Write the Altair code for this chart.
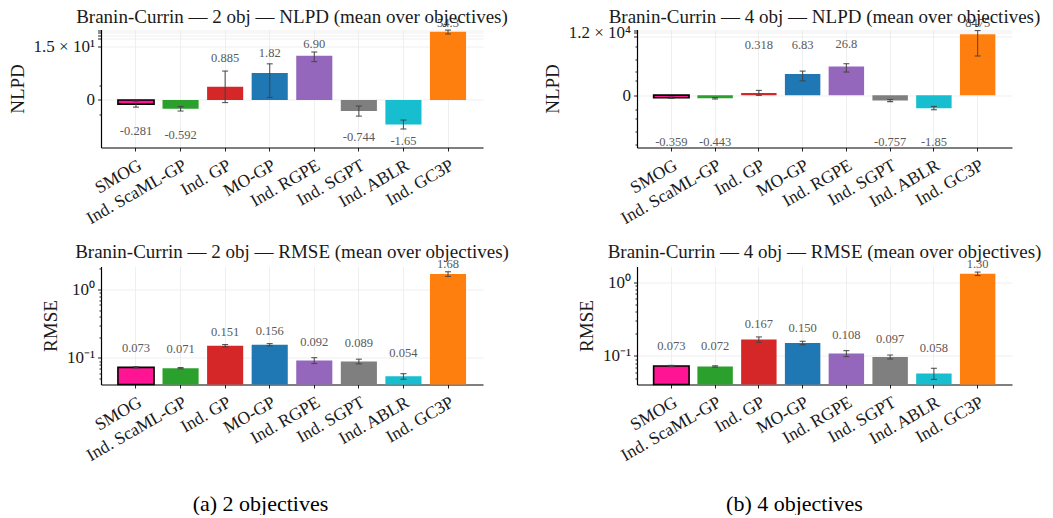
import math
import altair as alt
import pandas as pd

# ---------------- data ----------------
methods = ["SMOG", "Ind. ScaML-GP", "Ind. GP", "MO-GP", "Ind. RGPE",
           "Ind. SGPT", "Ind. ABLR", "Ind. GC3P"]
colors = ["#ff1493", "#2ca02c", "#d62728", "#1f77b4", "#9467bd",
          "#7f7f7f", "#17becf", "#ff7f0e"]

nlpd2_mean = [-0.281, -0.592, 0.885, 1.82, 6.90, -0.744, -1.65, 54.3]
nlpd2_err = [0.2, 0.15, 1.06, 1.65, 2.7, 0.34, 0.3, 9.0]
nlpd4_mean = [-0.359, -0.443, 0.318, 6.83, 26.8, -0.757, -1.85, 8475]
nlpd4_err = [0.1, 0.1, 0.35, 4.8, 17.0, 0.15, 0.27, 8300]
rmse2_mean = [0.073, 0.071, 0.151, 0.156, 0.092, 0.089, 0.054, 1.68]
rmse2_err = [0.0015, 0.0015, 0.006, 0.006, 0.009, 0.007, 0.005, 0.13]
rmse4_mean = [0.073, 0.072, 0.167, 0.150, 0.108, 0.097, 0.058, 1.30]
rmse4_err = [0.0015, 0.0015, 0.014, 0.008, 0.010, 0.006, 0.010, 0.07]

titles = [
    "Branin-Currin \u2014 2 obj \u2014 NLPD (mean over objectives)",
    "Branin-Currin \u2014 4 obj \u2014 NLPD (mean over objectives)",
    "Branin-Currin \u2014 2 obj \u2014 RMSE (mean over objectives)",
    "Branin-Currin \u2014 4 obj \u2014 RMSE (mean over objectives)",
]
captions = ["(a) 2 objectives", "(b) 4 objectives"]

# ---------------- style ----------------
SERIF = "Liberation Serif"
TXT = "#1a1a1a"
GRID = "#ebebeb"
W_LEFT, W_RIGHT, H = 382, 375, 118

# matplotlib-like symlog (linthresh 2, linscale 1)
T = 2.0
A = 1.0 / (1.0 - 0.1)


def symlog(v):
    a = abs(v)
    if a <= T:
        return v / T * A
    return math.copysign(A + math.log10(a / T), v)


def symlog_expr(f):
    return (f"abs({f}) <= {T} ? {f} / {T} * {A} : "
            f"({f} < 0 ? -1 : 1) * ({A} + log(abs({f}) / {T}) / LN10)")


def fmt_nlpd(v):
    if abs(v) >= 1000:
        return f"{v:.0f}"
    return f"{v:#.3g}"


def fmt_rmse(v):
    return f"{v:.2f}" if v >= 1 else f"{v:.3f}"


def x_enc(caption=None, title_x=0):
    kw = dict(labelAngle=-30, labelAlign="right", labelBaseline="top",
              labelFont=SERIF, labelFontSize=17.5, labelColor=TXT,
              labelPadding=5, tickSize=3.5, tickColor="#222",
              domainColor="#000", domainWidth=1.2, gridColor=GRID,
              gridWidth=0.8, grid=True, labelOverlap=False)
    if caption:
        kw.update(title=caption, titleFont=SERIF, titleFontSize=22,
                  titleFontWeight="normal", titleColor="#000",
                  titleX=title_x, titleY=119, titleBaseline="middle",
                  titleAlign="center")
    else:
        kw.update(title=None)
    return alt.X("method:N", sort=methods,
                 scale=alt.Scale(paddingInner=0.19, paddingOuter=0.38),
                 axis=alt.Axis(**kw))


def major_axis(title, values, labelexpr):
    return alt.Axis(
        title=title, values=values, labelExpr=labelexpr, orient="left",
        labelFont=SERIF, labelFontSize=17, labelColor=TXT, labelPadding=3,
        titleFont=SERIF, titleFontSize=19, titleFontWeight="normal",
        titleColor=TXT, titlePadding=6,
        tickColor="#222", tickSize=3.5, domainColor="#000", domainWidth=1.2,
        gridColor=GRID, gridWidth=0.8, grid=True, labelOverlap=False,
    )


def minor_axis(values):
    return alt.Axis(values=values, orient="left", labels=False, title=None,
                    grid=False, domain=False, tickColor="#222", tickSize=2)


def title_params(text, offset):
    return alt.TitleParams(text=text, font=SERIF, fontSize=19,
                           fontWeight="normal", color=TXT, anchor="middle",
                           frame="group", offset=offset, baseline="alphabetic")


color_enc = alt.Color("method:N", sort=methods,
                      scale=alt.Scale(domain=methods, range=colors),
                      legend=None)
smog_edge = alt.condition(alt.datum.method == "SMOG", alt.value(1.6),
                          alt.value(0))
ERR = dict(color="#444", opacity=0.9)
LBL = dict(font=SERIF, fontSize=12.5, color="#5a5a5a")


def nlpd_panel(mean, err, off_pos, off_neg, dom, major, minor, labelexpr,
               title, width):
    df = pd.DataFrame({"method": methods, "mean": mean, "err": err,
                       "label": [fmt_nlpd(v) for v in mean]})
    base = alt.Chart(df).transform_calculate(
        lo="datum.mean - datum.err",
        hi="datum.mean + datum.err",
        lpos=(f"datum.mean >= 0 ? datum.mean + datum.err + {off_pos}"
              f" : datum.mean - datum.err - {off_neg}"),
    ).transform_calculate(
        u=symlog_expr("datum.mean"),
        ulo=symlog_expr("datum.lo"),
        uhi=symlog_expr("datum.hi"),
        ulab=symlog_expr("datum.lpos"),
    )
    yscale = alt.Scale(domain=dom, nice=False, zero=False)
    x = x_enc()
    bars = base.mark_bar(stroke="black").encode(
        x=x,
        y=alt.Y("u:Q", scale=yscale,
                axis=major_axis("NLPD", [symlog(v) for v in major], labelexpr)),
        y2=alt.datum(0),
        color=color_enc,
        strokeWidth=smog_edge,
    )
    rule = base.mark_rule(strokeWidth=1.1, **ERR).encode(
        x=x, y=alt.Y("ulo:Q", scale=yscale,
                     axis=minor_axis([symlog(v) for v in minor])),
        y2="uhi:Q")
    cap_lo = base.mark_tick(size=6, thickness=1.1, **ERR).encode(
        x=x, y=alt.Y("ulo:Q", axis=None))
    cap_hi = base.mark_tick(size=6, thickness=1.1, **ERR).encode(
        x=x, y=alt.Y("uhi:Q", axis=None))
    txt_pos = base.transform_filter("datum.mean >= 0").mark_text(
        baseline="bottom", **LBL).encode(
        x=x, y=alt.Y("ulab:Q", axis=None), text="label:N")
    txt_neg = base.transform_filter("datum.mean < 0").mark_text(
        baseline="top", **LBL).encode(
        x=x, y=alt.Y("ulab:Q", axis=None), text="label:N")
    return alt.layer(bars, rule, cap_lo, cap_hi, txt_pos, txt_neg).resolve_axis(
        y="independent").properties(width=width, height=H,
                                    title=title_params(title, -25))


def rmse_panel(mean, err, off, dom, caption, cap_x, title, width):
    df = pd.DataFrame({"method": methods, "mean": mean, "err": err,
                       "label": [fmt_rmse(v) for v in mean]})
    base = alt.Chart(df).transform_calculate(
        lo="datum.mean - datum.err",
        hi="datum.mean + datum.err",
        lpos=f"datum.mean + datum.err + {off}",
    )
    yscale = alt.Scale(type="log", domain=dom, nice=False)
    major = [0.1, 1.0]
    minor = [0.05, 0.06, 0.07, 0.08, 0.09, 0.2, 0.3, 0.4, 0.5, 0.6, 0.7,
             0.8, 0.9, 2.0]
    minor = [v for v in minor if dom[0] <= v <= dom[1]]
    labelexpr = ("datum.value == 0.1 ? '10\u207b\u00b9' : "
                 "datum.value == 1 ? '10\u2070' : ''")
    x = x_enc(caption, cap_x)
    bars = base.mark_bar(stroke="black").encode(
        x=x,
        y=alt.Y("mean:Q", scale=yscale,
                axis=major_axis("RMSE", major, labelexpr)),
        y2=alt.datum(dom[0]),
        color=color_enc,
        strokeWidth=smog_edge,
    )
    rule = base.mark_rule(strokeWidth=1.1, **ERR).encode(
        x=x, y=alt.Y("lo:Q", scale=yscale, axis=minor_axis(minor)), y2="hi:Q")
    cap_lo = base.mark_tick(size=6, thickness=1.1, **ERR).encode(
        x=x, y=alt.Y("lo:Q", axis=None))
    cap_hi = base.mark_tick(size=6, thickness=1.1, **ERR).encode(
        x=x, y=alt.Y("hi:Q", axis=None))
    txt = base.mark_text(baseline="bottom", **LBL).encode(
        x=x, y=alt.Y("lpos:Q", axis=None), text="label:N")
    return alt.layer(bars, rule, cap_lo, cap_hi, txt).resolve_axis(
        y="independent").properties(width=width, height=H,
                                    title=title_params(title, -19))


p1 = nlpd_panel(
    nlpd2_mean, nlpd2_err, 1.2, 1.2, [-1.775, 2.633],
    major=[0, 15, 30, 40, 50, 60], minor=[-1, 1],
    labelexpr=(f"abs(datum.value) < 1e-9 ? '0' : "
               f"abs(datum.value - {symlog(15)}) < 1e-9 ? '1.5 \u00d7 10\u00b9' : ''"),
    title=titles[0], width=W_LEFT)
p2 = nlpd_panel(
    nlpd4_mean, nlpd4_err, 350, 250, [-4.078, 5.117],
    major=[0, 6000, 12000, 18000],
    minor=[-1000, -100, -10, -2, 2, 10, 100, 1000],
    labelexpr=(f"abs(datum.value) < 1e-9 ? '0' : "
               f"abs(datum.value - {symlog(12000)}) < 1e-9 ? '1.2 \u00d7 10\u2074' : ''"),
    title=titles[1], width=W_RIGHT)
p3 = rmse_panel(rmse2_mean, rmse2_err, 0.035, [0.041, 2.16], captions[0],
                159, titles[2], W_LEFT)
p4 = rmse_panel(rmse4_mean, rmse4_err, 0.035, [0.041, 1.63], captions[1],
                157, titles[3], W_RIGHT)

chart = alt.concat(
    p1, p2, p3, p4, columns=2, bounds="flush",
    spacing={"row": 119, "column": 154},
).configure_view(stroke=None).properties(
    padding={"left": 8, "top": 7.5, "right": 0, "bottom": 0},
    background="white")

chart.save("out.html", embed_options={"renderer": "svg", "actions": False})
